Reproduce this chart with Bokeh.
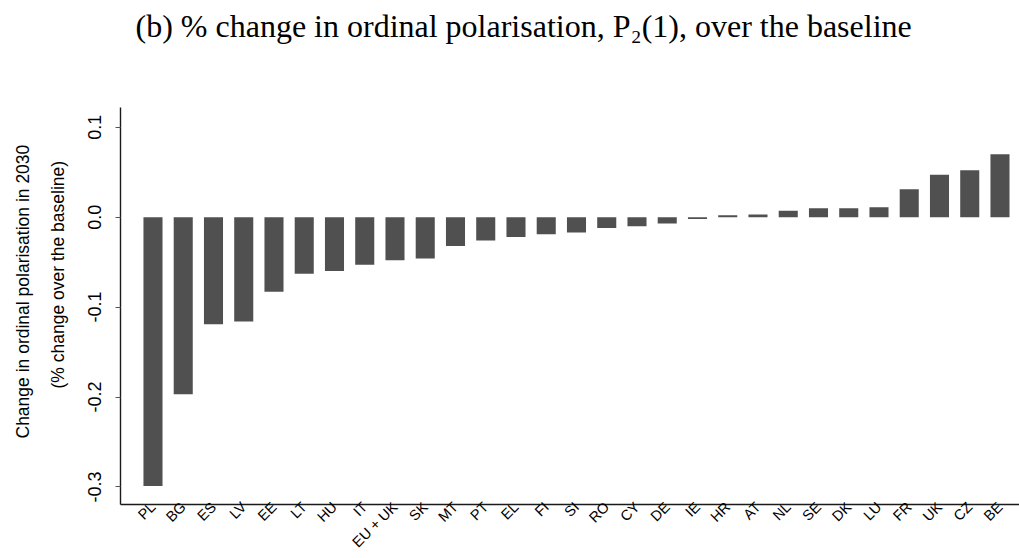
from math import pi
from bokeh.plotting import figure
from bokeh.models import Range1d, FixedTicker, Title, NumeralTickFormatter, ColumnDataSource
from bokeh.embed import file_html
from bokeh.resources import INLINE

countries = ["PL", "BG", "ES", "LV", "EE", "LT", "HU", "IT", "EU + UK", "SK", "MT", "PT", "EL",
             "FI", "SI", "RO", "CY", "DE", "IE", "HR", "AT", "NL", "SE", "DK", "LU", "FR", "UK", "CZ", "BE"]
changes = [-0.299, -0.197, -0.119, -0.116, -0.083, -0.063, -0.060, -0.053, -0.048, -0.046, -0.032,
           -0.026, -0.022, -0.019, -0.017, -0.012, -0.010, -0.007, -0.002, 0.002, 0.003, 0.007,
           0.010, 0.010, 0.011, 0.031, 0.047, 0.052, 0.070]
y_ticks = [-0.3, -0.2, -0.1, 0.0, 0.1]

title_text = "(b) % change in ordinal polarisation, P\u2082(1), over the baseline"
ytitle_1 = "Change in ordinal polarisation in 2030"
ytitle_2 = "(% change over the baseline)"

W, H = 1019, 558
X_LO, X_HI = -1.074, 28.645
Y_LO, Y_HI = -0.3195, 0.1219

xs = list(range(len(countries)))
src = ColumnDataSource(dict(x=xs, v=changes, name=countries))

p = figure(width=W, height=H,
           x_range=Range1d(X_LO, X_HI), y_range=Range1d(Y_LO, Y_HI),
           output_backend="svg", toolbar_location=None,
           min_border_left=120, min_border_right=0, min_border_top=107, min_border_bottom=0,
           outline_line_color=None, background_fill_color="white", border_fill_color="white")

p.vbar(x="x", top="v", bottom=0, width=0.63, source=src, fill_color="#505050", line_color=None)

p.xgrid.visible = False
p.ygrid.visible = False

xa = p.xaxis[0]
xa.ticker = FixedTicker(ticks=xs)
xa.major_label_overrides = {i: c for i, c in zip(xs, countries)}
xa.major_label_orientation = pi / 4
xa.major_tick_line_color = None
xa.minor_tick_line_color = None
xa.major_tick_out = 0
xa.major_tick_in = 0
xa.minor_tick_out = 0
xa.axis_label_standoff = 0
xa.major_label_standoff = 0
xa.major_label_text_font = "Liberation Sans"
xa.major_label_text_font_size = "14.5px"
xa.major_label_text_color = "black"
xa.axis_line_color = "#1a1a1a"
xa.axis_line_width = 1.4

ya = p.yaxis[0]
ya.ticker = FixedTicker(ticks=y_ticks)
ya.formatter = NumeralTickFormatter(format="0.0")
ya.major_label_orientation = "vertical"
ya.major_tick_out = 5
ya.major_tick_in = 0
ya.minor_tick_line_color = None
ya.major_tick_line_color = "#555555"
ya.major_label_standoff = 14
ya.major_label_text_font = "Liberation Sans"
ya.major_label_text_font_size = "18px"
ya.major_label_text_color = "black"
ya.axis_line_color = "#1a1a1a"
ya.axis_line_width = 1.4

t2 = Title(text=ytitle_2, align="left", offset=116, text_font="Liberation Sans",
           text_font_size="17.5px", text_font_style="normal", text_color="black", standoff=36)
t1 = Title(text=ytitle_1, align="left", offset=66, text_font="Liberation Sans",
           text_font_size="17.5px", text_font_style="normal", text_color="black", standoff=0)
try:
    t1.standoff = -10
except Exception:
    t1.standoff = 0
p.add_layout(t2, "left")
p.add_layout(t1, "left")

spacer = Title(text=" ", text_font_size="1px", standoff=61, text_color="white")
main_title = Title(text=title_text, align="left", offset=15, vertical_align="bottom",
                   text_font="Liberation Serif", text_font_size="32px", text_font_style="normal",
                   text_color="black", standoff=0)
p.add_layout(spacer, "above")
p.add_layout(main_title, "above")

open("out.html", "w").write(file_html(p, INLINE))
